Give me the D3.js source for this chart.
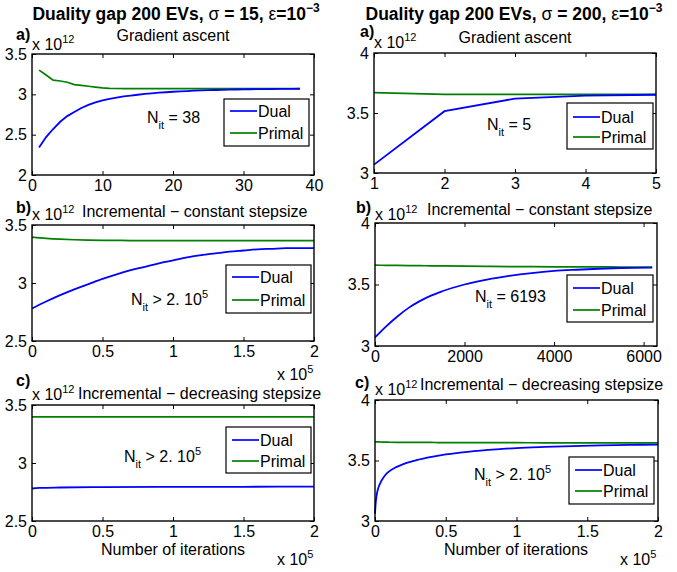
<!DOCTYPE html>
<html>
<head>
<meta charset="utf-8">
<script src="https://cdn.jsdelivr.net/npm/d3@7/dist/d3.min.js"></script>
<style>
body { margin: 0; background: #fff; }
svg text { font-family: "Liberation Sans", Arial, sans-serif; fill: #000; }
</style>
</head>
<body>
<script>
const w = 677;
const h = 572;
const blue = "#0000ff";
const green = "#008000";

// ---- data (y values in units of 1e12) ----
// a) gradient ascent, sigma = 15
const aLeftIter = d3.range(1, 39);
const aLeftDual = [2.34, 2.47, 2.57, 2.66, 2.73, 2.78, 2.83, 2.87, 2.90, 2.925,
                   2.945, 2.96, 2.975, 2.985, 2.995, 3.005, 3.013, 3.02, 3.026, 3.032,
                   3.037, 3.041, 3.045, 3.048, 3.051, 3.054, 3.056, 3.058, 3.06, 3.062,
                   3.063, 3.064, 3.065, 3.066, 3.067, 3.068, 3.068, 3.069];
const aLeftPrimal = [3.30, 3.24, 3.175, 3.165, 3.15, 3.12, 3.11, 3.10, 3.09, 3.08,
                     3.075, 3.072, 3.071, 3.07, 3.07, 3.07, 3.07, 3.07, 3.07, 3.07,
                     3.07, 3.07, 3.07, 3.07, 3.07, 3.07, 3.07, 3.07, 3.07, 3.07,
                     3.07, 3.07, 3.07, 3.07, 3.07, 3.07, 3.07, 3.07];
// a) gradient ascent, sigma = 200
const aRightIter = [1, 2, 3, 4, 5];
const aRightDual = [3.07, 3.515, 3.62, 3.645, 3.652];
const aRightPrimal = [3.67, 3.655, 3.655, 3.655, 3.655];

// b) incremental constant stepsize, sigma = 15 (x in units of 1e5)
const bLeftIter = [0, 0.1, 0.2, 0.3, 0.4, 0.5, 0.6, 0.7, 0.8, 0.9, 1.0,
                   1.1, 1.2, 1.3, 1.4, 1.5, 1.6, 1.7, 1.8, 1.9, 2.0];
const bLeftDual = [2.78, 2.84, 2.895, 2.945, 2.99, 3.035, 3.075, 3.11, 3.14, 3.17, 3.195,
                   3.22, 3.24, 3.255, 3.27, 3.28, 3.29, 3.295, 3.30, 3.30, 3.30];
const bLeftPrimal = [3.395, 3.385, 3.378, 3.373, 3.37, 3.368, 3.367, 3.366, 3.366, 3.365, 3.365,
                     3.365, 3.365, 3.365, 3.365, 3.365, 3.365, 3.365, 3.365, 3.365, 3.365];
// b) incremental constant stepsize, sigma = 200
const bRightIter = [0, 250, 500, 750, 1000, 1250, 1500, 2000, 2500, 3000,
                    3500, 4000, 4500, 5000, 5500, 6193];
const bRightDual = [3.07, 3.16, 3.24, 3.31, 3.365, 3.41, 3.445, 3.50, 3.54, 3.57,
                    3.593, 3.61, 3.62, 3.628, 3.634, 3.638];
const bRightPrimal = [3.657, 3.656, 3.655, 3.654, 3.653, 3.652, 3.651, 3.649, 3.647, 3.646,
                      3.645, 3.644, 3.643, 3.643, 3.642, 3.642];

// c) incremental decreasing stepsize, sigma = 15
const cLeftIter = [0, 0.05, 0.2, 0.5, 1.0, 1.5, 2.0];
const cLeftDual = [2.78, 2.785, 2.789, 2.792, 2.794, 2.795, 2.796];
const cLeftPrimal = [3.398, 3.398, 3.398, 3.398, 3.398, 3.398, 3.398];
// c) incremental decreasing stepsize, sigma = 200
const cRightIter = [0, 0.005, 0.01, 0.02, 0.04, 0.06, 0.08, 0.1, 0.15, 0.2, 0.3,
                    0.4, 0.5, 0.6, 0.7, 0.8, 0.9, 1.0, 1.2, 1.4, 1.6, 1.8, 2.0];
const cRightDual = [3.06, 3.15, 3.2, 3.26, 3.32, 3.36, 3.39, 3.41, 3.445, 3.47, 3.505,
                    3.53, 3.55, 3.565, 3.578, 3.588, 3.596, 3.603, 3.612, 3.619, 3.625, 3.629, 3.632];
const cRightPrimal = [3.655, 3.655, 3.654, 3.654, 3.653, 3.652, 3.652, 3.651, 3.65, 3.65, 3.649,
                      3.649, 3.648, 3.648, 3.648, 3.647, 3.647, 3.647, 3.646, 3.646, 3.645, 3.645, 3.645];

const legendNames = ["Dual", "Primal"];

let svg = d3.select("body")
            .append("svg")
            .attr("width", w)
            .attr("height", h);

// text with sub / superscripts; parts = [[text, "n"|"sub"|"sup"], ...]
function rich(x, y, parts, opts = {}) {
    let size = opts.size || 16;
    let t = svg.append("text")
               .attr("x", x)
               .attr("y", y)
               .attr("font-size", size)
               .attr("font-weight", opts.bold ? "bold" : "normal")
               .attr("text-anchor", opts.anchor || "start");
    let cur = 0;
    parts.forEach(([s, kind, weight]) => {
        let off = kind === "sup" ? -Math.round(size * 0.45) : kind === "sub" ? 6 : 0;
        let sp = t.append("tspan")
                  .attr("dy", off - cur)
                  .attr("font-size", kind === "n" ? size : Math.round(size * 0.7))
                  .text(s);
        if (weight) sp.attr("font-weight", weight);
        cur = off;
    });
    return t;
}

function drawPanel(p) {
    const x = d3.scaleLinear().domain(p.xDomain).range([p.left, p.right]);
    const y = d3.scaleLinear().domain(p.yDomain).range([p.bottom, p.top]);
    const line = d3.line().x(d => x(d[0])).y(d => y(d[1]))
                   .curve(p.smooth ? d3.curveMonotoneX : d3.curveLinear);

    const g = svg.append("g");

    // inward ticks on all four sides
    g.append("g")
     .attr("transform", `translate(0,${p.bottom})`)
     .call(d3.axisBottom(x).tickValues(p.xTicks).tickSize(-4).tickSizeOuter(0)
             .tickPadding(5).tickFormat(d3.format("~g")));
    g.append("g")
     .attr("transform", `translate(0,${p.top})`)
     .call(d3.axisTop(x).tickValues(p.xTicks).tickSize(-4).tickSizeOuter(0).tickFormat(""));
    g.append("g")
     .attr("transform", `translate(${p.left},0)`)
     .call(d3.axisLeft(y).tickValues(p.yTicks).tickSize(-4).tickSizeOuter(0)
             .tickPadding(5).tickFormat(d3.format("~g")));
    g.append("g")
     .attr("transform", `translate(${p.right},0)`)
     .call(d3.axisRight(y).tickValues(p.yTicks).tickSize(-4).tickSizeOuter(0).tickFormat(""));

    g.selectAll(".domain").remove();
    g.selectAll(".tick line").attr("stroke", "#000").attr("stroke-width", 1);
    g.selectAll(".tick text").attr("font-size", 16)
     .attr("font-family", "Liberation Sans, Arial, sans-serif").attr("fill", "#000");

    g.append("path").datum(d3.zip(p.iter, p.primal))
     .attr("d", line).attr("fill", "none").attr("stroke", green).attr("stroke-width", 1.7);
    g.append("path").datum(d3.zip(p.iter, p.dual))
     .attr("d", line).attr("fill", "none").attr("stroke", blue).attr("stroke-width", 1.8);

    g.append("rect")
     .attr("x", p.left).attr("y", p.top)
     .attr("width", p.right - p.left).attr("height", p.bottom - p.top)
     .attr("fill", "none").attr("stroke", "#000").attr("stroke-width", 1.4);

    // legend
    const L = p.legend;
    g.append("rect")
     .attr("x", L.x0).attr("y", L.y0)
     .attr("width", L.x1 - L.x0).attr("height", L.y1 - L.y0)
     .attr("fill", "#fff").attr("stroke", "#000").attr("stroke-width", 1.2);
    [[legendNames[0], blue, L.yDual], [legendNames[1], green, L.yPrimal]].forEach(([name, col, ly]) => {
        g.append("line")
         .attr("x1", L.x0 + 6).attr("x2", L.x0 + 33)
         .attr("y1", ly).attr("y2", ly)
         .attr("stroke", col).attr("stroke-width", 1.7);
        g.append("text")
         .attr("x", L.x0 + 34).attr("y", ly + 6)
         .attr("font-size", 16)
         .text(name);
    });

    // panel letter, y multiplier, subplot title
    rich(p.letter[0], p.letter[1], [[p.letter[2], "n"]], { bold: true });
    rich(p.mult[0], p.mult[1], [["x 10", "n"], ["12", "sup"]]);
    rich(p.title[0], p.title[1], [[p.title[2], "n"]], { anchor: p.title[3] || "start" });
    rich(p.nit[0], p.nit[1], p.nit[2]);
    if (p.xmult) rich(p.xmult[0], p.xmult[1], [["x 10", "n"], ["5", "sup"]]);
    if (p.xlabel) rich(p.xlabel[0], p.xlabel[1], [["Number of iterations", "n"]], { anchor: "middle" });
}

const nitBig = [["N", "n"], ["it", "sub"], [" > 2. 10", "n"], ["5", "sup"]];

const panels = [
    { iter: aLeftIter, dual: aLeftDual, primal: aLeftPrimal, smooth: false,
      left: 32, right: 314, top: 54, bottom: 175,
      xDomain: [0, 40], yDomain: [2, 3.5],
      xTicks: [0, 10, 20, 30, 40], yTicks: [2, 2.5, 3, 3.5],
      legend: { x0: 224, y0: 99, x1: 309, y1: 146, yDual: 111, yPrimal: 133 },
      letter: [16, 40, "a)"], mult: [32, 50], title: [173, 41, "Gradient ascent", "middle"],
      nit: [147, 123, [["N", "n"], ["it", "sub"], [" = 38", "n"]]] },
    { iter: aRightIter, dual: aRightDual, primal: aRightPrimal, smooth: false,
      left: 374, right: 656, top: 53, bottom: 173,
      xDomain: [1, 5], yDomain: [3, 4],
      xTicks: [1, 2, 3, 4, 5], yTicks: [3, 3.5, 4],
      legend: { x0: 567, y0: 103, x1: 653, y1: 149, yDual: 117, yPrimal: 137 },
      letter: [360, 37, "a)"], mult: [374, 48], title: [515, 43, "Gradient ascent", "middle"],
      nit: [487, 130, [["N", "n"], ["it", "sub"], [" = 5", "n"]]] },
    { iter: bLeftIter, dual: bLeftDual, primal: bLeftPrimal, smooth: true,
      left: 32, right: 314, top: 225, bottom: 341,
      xDomain: [0, 2], yDomain: [2.5, 3.5],
      xTicks: [0, 0.5, 1, 1.5, 2], yTicks: [2.5, 3, 3.5],
      legend: { x0: 226, y0: 265, x1: 311, y1: 313, yDual: 277, yPrimal: 300 },
      letter: [16, 213, "b)"], mult: [32, 220], title: [82, 217, "Incremental \u2212 constant stepsize"],
      nit: [131, 305, nitBig], xmult: [277, 380] },
    { iter: bRightIter, dual: bRightDual, primal: bRightPrimal, smooth: true,
      left: 375, right: 657, top: 223, bottom: 346,
      xDomain: [0, 6300], yDomain: [3, 4],
      xTicks: [0, 2000, 4000, 6000], yTicks: [3, 3.5, 4],
      legend: { x0: 567, y0: 275, x1: 653, y1: 322, yDual: 288, yPrimal: 310 },
      letter: [356, 213, "b)"], mult: [375, 220], title: [427, 215, "Incremental \u2212 constant stepsize"],
      nit: [475, 302, [["N", "n"], ["it", "sub"], [" = 6193", "n"]]] },
    { iter: cLeftIter, dual: cLeftDual, primal: cLeftPrimal, smooth: true,
      left: 32, right: 314, top: 405, bottom: 521,
      xDomain: [0, 2], yDomain: [2.5, 3.5],
      xTicks: [0, 0.5, 1, 1.5, 2], yTicks: [2.5, 3, 3.5],
      legend: { x0: 226, y0: 427, x1: 311, y1: 473, yDual: 440, yPrimal: 461 },
      letter: [16, 386, "c)"], mult: [32, 400], title: [78, 399, "Incremental \u2212 decreasing stepsize"],
      nit: [124, 462, nitBig], xmult: [277, 565], xlabel: [173, 555] },
    { iter: cRightIter, dual: cRightDual, primal: cRightPrimal, smooth: true,
      left: 375, right: 658, top: 400, bottom: 521,
      xDomain: [0, 2], yDomain: [3, 4],
      xTicks: [0, 0.5, 1, 1.5, 2], yTicks: [3, 3.5, 4],
      legend: { x0: 569, y0: 457, x1: 654, y1: 504, yDual: 470, yPrimal: 491 },
      letter: [355, 388, "c)"], mult: [375, 395], title: [420, 390, "Incremental \u2212 decreasing stepsize"],
      nit: [474, 480, nitBig], xmult: [620, 565], xlabel: [516, 555] }
];

panels.forEach(drawPanel);

// figure column titles
rich(176, 20, [["Duality gap 200 EVs, ", "n"], ["\u03c3", "n", "normal"], [" = 15, ", "n"],
               ["\u03b5", "n", "normal"], ["=10", "n"], ["\u22123", "sup"]],
     { bold: true, anchor: "middle", size: 17.5 });
rich(514, 20, [["Duality gap 200 EVs, ", "n"], ["\u03c3", "n", "normal"], [" = 200, ", "n"],
               ["\u03b5", "n", "normal"], ["=10", "n"], ["\u22123", "sup"]],
     { bold: true, anchor: "middle", size: 17.5 });
</script>
</body>
</html>
